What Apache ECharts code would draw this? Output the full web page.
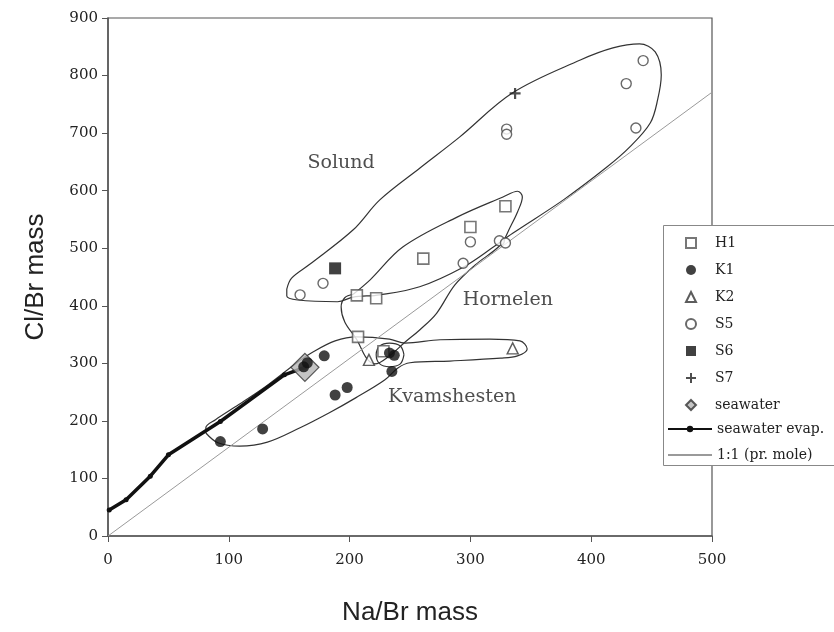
<!DOCTYPE html>
<html>
<head>
<meta charset="utf-8">
<script src="https://cdn.jsdelivr.net/npm/echarts@6/dist/echarts.min.js"></script>
<style>html,body{margin:0;padding:0;background:#fff;}#c{width:834px;height:632px;}</style>
</head>
<body>
<div id="c"></div>
<script>
// ---- data (Na/Br mass, Cl/Br mass) ----
var xTicks = [0, 100, 200, 300, 400, 500];
var yTicks = [0, 100, 200, 300, 400, 500, 600, 700, 800, 900];

var H1 = [[329,573],[300,537],[261,482],[206,418],[222,413],[207,346],[228,321]];
var K1 = [[93,164],[128,186],[188,245],[198,258],[235,286],[233,318],[237,314],[179,313],[162,294],[165,301]];
var K2 = [[335,326],[216,306]];
var S5 = [[443,826],[429,786],[437,709],[330,707],[330,698],[300,511],[294,474],[324,513],[329,509],[178,439],[159,419]];
var S6 = [[188,465]];
var S7 = [[337,769]];
var seawater = [[163,293]];
var seawaterEvap = [[1,45],[15,63],[35,104],[50,141],[93,199],[146,280],[163,293]];
var oneToOne = [[0,0],[500,771]];

// hand-drawn group envelopes (data coordinates)
var solundEnv = [[148,429],[152,448],[167,472],[203,532],[225,584],[258,639],[291,693],[335,770],[391,827],[418,848],[440,855],[453,841],[458,801],[455,758],[449,718],[432,676],[413,641],[377,584],[335,526],[319,502],[294,467],[258,433],[225,419],[203,415],[190,407],[157,410],[148,417],[148,429]];
var hornelenEnv = [[203,420],[217,445],[244,502],[289,554],[327,589],[339,599],[343,589],[339,563],[333,537],[325,506],[304,471],[287,436],[272,387],[258,358],[246,337],[233,313],[221,299],[214,309],[206,341],[196,372],[193,398],[196,414],[203,420]];
var kvamEnv = [[81,179],[91,162],[109,156],[132,163],[159,188],[184,215],[205,240],[229,271],[240,292],[250,301],[283,304],[325,309],[339,313],[347,325],[341,339],[316,342],[275,341],[246,335],[233,342],[206,346],[188,339],[170,320],[155,299],[130,259],[105,224],[89,202],[81,188],[81,179]];
var kvamRing = [[245,315],[242,330],[233,335],[225,330],[222,315],[225,299],[233,294],[242,299],[245,315]];

var regionNames = ['Solund', 'Hornelen', 'Kvamshesten'];
var regionX = [193, 331, 285];
var regionY = [648, 410, 242];

var markerLegend = ['H1','K1','K2','S5','S6','S7','seawater'];
var lineLegend = ['seawater evap.','1:1 (pr. mole)'];

// ---- chart ----
var serif = 'DejaVu Serif';
var chart = echarts.init(document.getElementById('c'));
function envSeries(name, data) {
  return { name: name, type: 'line', data: data, smooth: 0.35, symbol: 'none',
    lineStyle: { color: '#333', width: 1.2 }, z: 2, silent: true };
}
var plusPath = 'path://M4,0H6V4H10V6H6V10H4V6H0V4H4Z';
var legendText = { fontFamily: serif, fontSize: 14, color: '#222', lineHeight: 14 };
var option = {
  animation: false,
  backgroundColor: '#fff',
  grid: { left: 108, right: 122, top: 18, bottom: 96, show: true, borderColor: '#555', borderWidth: 1.2 },
  graphic: [{
    type: 'rect', left: 663, top: 225, z: 3,
    shape: { width: 200, height: 240 },
    style: { fill: '#fff', stroke: '#888', lineWidth: 1 }
  }],
  xAxis: {
    type: 'value', min: 0, max: 500, interval: 100,
    name: 'Na/Br mass', nameLocation: 'middle', nameGap: 64,
    nameTextStyle: { fontFamily: 'Liberation Sans', fontSize: 26, color: '#222' },
    axisLine: { lineStyle: { color: '#555', width: 1.5 } },
    axisTick: { show: true, length: 6, lineStyle: { color: '#555' } },
    axisLabel: { fontFamily: serif, fontSize: 15, color: '#222', margin: 17 },
    splitLine: { show: false }
  },
  yAxis: {
    type: 'value', min: 0, max: 900, interval: 100,
    name: 'Cl/Br mass', nameLocation: 'middle', nameGap: 59, nameRotate: 90,
    nameTextStyle: { fontFamily: 'Liberation Sans', fontSize: 26, color: '#222' },
    axisLine: { lineStyle: { color: '#555', width: 1.5 } },
    axisTick: { show: true, length: 6, lineStyle: { color: '#555' } },
    axisLabel: { fontFamily: serif, fontSize: 15, color: '#222', margin: 10 },
    splitLine: { show: false }
  },
  legend: [{
    data: markerLegend, orient: 'vertical', left: 685, top: 236,
    itemWidth: 10, itemHeight: 10, itemGap: 13, padding: 0,
    textStyle: Object.assign({ padding: [0, 0, 0, 14] }, legendText),
    selectedMode: false, z: 5
  }, {
    data: [{ name: lineLegend[0] }, { name: lineLegend[1], itemStyle: { color: 'rgba(0,0,0,0)', borderWidth: 0 } }],
    orient: 'vertical', left: 667, top: 422,
    itemWidth: 44, itemHeight: 8, itemGap: 12, padding: 0,
    textStyle: legendText,
    selectedMode: false, z: 5
  }],
  series: [
    envSeries('Solund env', solundEnv),
    envSeries('Hornelen env', hornelenEnv),
    envSeries('Kvamshesten env', kvamEnv),
    envSeries('Kvamshesten ring', kvamRing),
    { name: '1:1 (pr. mole)', type: 'line', data: oneToOne, symbol: 'none',
      lineStyle: { color: '#9a9a9a', width: 1 }, itemStyle: { color: '#9a9a9a' }, z: 2 },
    { name: 'seawater evap.', type: 'line', data: seawaterEvap, symbol: 'circle', symbolSize: 5, showSymbol: true,
      lineStyle: { color: '#111', width: 3.5 }, itemStyle: { color: '#111' }, z: 3 },
    { name: 'seawater', type: 'scatter', data: seawater, symbol: 'diamond', symbolSize: 28,
      itemStyle: { color: '#b5b5b5', borderColor: '#333', borderWidth: 1.3 }, z: 4 },
    { name: 'H1', type: 'scatter', data: H1, symbol: 'rect', symbolSize: 11,
      itemStyle: { color: '#fff', borderColor: '#555', borderWidth: 1.6 }, z: 5 },
    { name: 'K1', type: 'scatter', data: K1, symbol: 'circle', symbolSize: 11,
      itemStyle: { color: '#111' }, z: 5 },
    { name: 'K2', type: 'scatter', data: K2, symbol: 'triangle', symbolSize: 11,
      itemStyle: { color: '#fff', borderColor: '#333', borderWidth: 1.4 }, z: 5 },
    { name: 'S5', type: 'scatter', data: S5, symbol: 'circle', symbolSize: 10,
      itemStyle: { color: '#fff', borderColor: '#444', borderWidth: 1.4 }, z: 5 },
    { name: 'S6', type: 'scatter', data: S6, symbol: 'rect', symbolSize: 12,
      itemStyle: { color: '#111' }, z: 5 },
    { name: 'S7', type: 'scatter', data: S7, symbol: plusPath, symbolSize: 11,
      itemStyle: { color: '#222' }, z: 5 },
    { name: 'regions', type: 'scatter', symbolSize: 1, itemStyle: { color: 'rgba(0,0,0,0)' },
      data: regionNames.map(function (n, i) { return { name: n, value: [regionX[i], regionY[i]] }; }),
      label: { show: true, position: 'inside', formatter: '{b}', fontFamily: serif, fontSize: 19, color: '#222' },
      silent: true, z: 6 }
  ]
};
chart.setOption(option);
</script>
</body>
</html>
